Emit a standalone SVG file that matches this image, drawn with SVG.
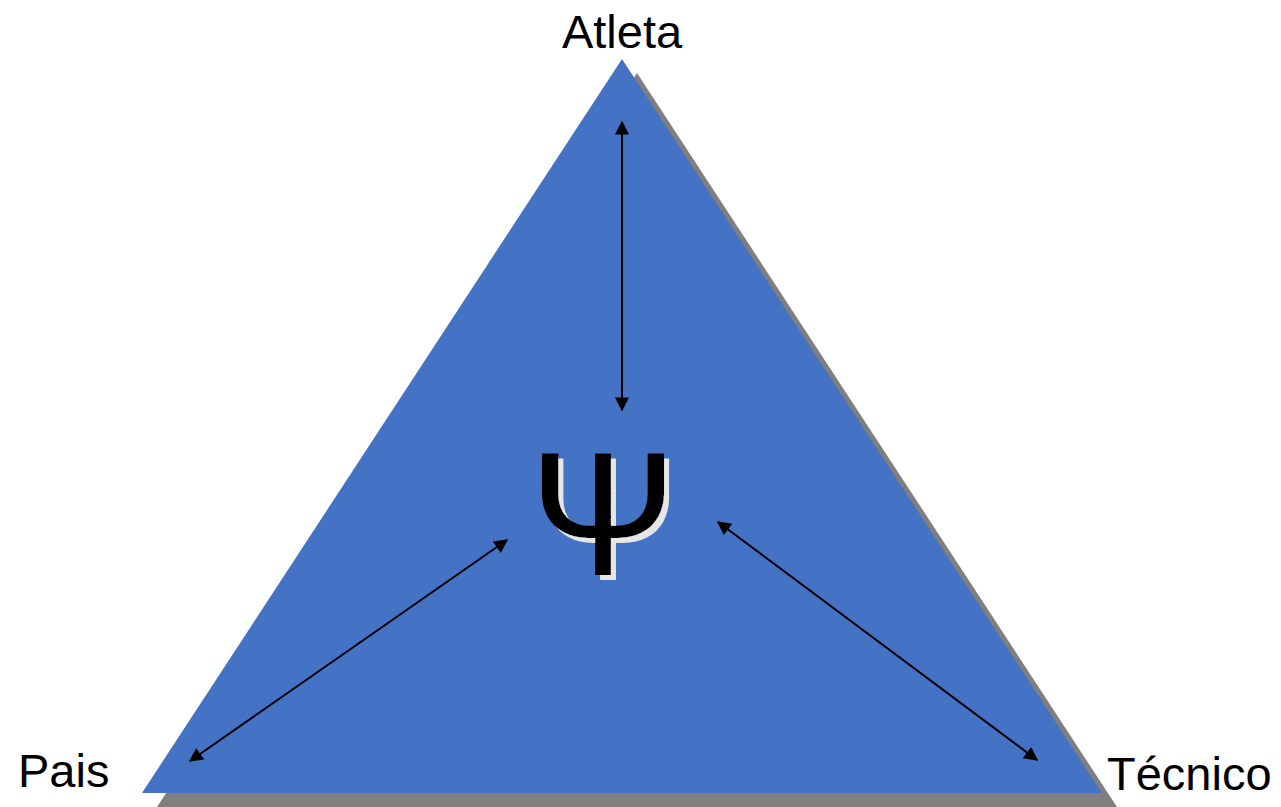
<svg xmlns="http://www.w3.org/2000/svg" width="1281" height="807" viewBox="0 0 1281 807">
<style>
.lbl{font-family:"Liberation Sans",Arial,sans-serif;font-size:47px;fill:#000}
.psi{font-family:"Liberation Sans",Arial,sans-serif;font-size:176px;fill:#000}
.con{stroke:#000;stroke-width:2;fill:none;marker-start:url(#ah);marker-end:url(#ah)}
</style>
<defs>
<marker id="ah" viewBox="0 0 10 10" refX="9" refY="5" markerWidth="7" markerHeight="7" orient="auto-start-reverse" markerUnits="strokeWidth">
<path d="M0,0 L10,5 L0,10 z" fill="#000"/>
</marker>
<filter id="sh" x="-20%" y="-20%" width="140%" height="140%">
<feOffset in="SourceAlpha" dx="5" dy="5" result="o"/>
<feFlood flood-color="#e6e6e6"/>
<feComposite in2="o" operator="in" result="s"/>
<feMerge><feMergeNode in="s"/><feMergeNode in="SourceGraphic"/></feMerge>
</filter>
</defs>
<rect width="1281" height="807" fill="#fff"/>
<g id="triangle">
<polygon points="637,73 1117,807 157,807" fill="#7f7f7f"/>
<polygon points="622,59 1102,793 142,793" fill="#4472C4"/>
</g>
<g id="psi">
<text class="psi" x="603" y="575" text-anchor="middle" filter="url(#sh)">Ψ</text>
</g>
<g id="connectors">
<line class="con" x1="622" y1="122" x2="622" y2="410"/>
<line class="con" x1="507" y1="540" x2="190" y2="761"/>
<line class="con" x1="718" y1="522" x2="1037" y2="760"/>
</g>
<g id="atleta"><text class="lbl" x="622" y="48" text-anchor="middle">Atleta</text></g>
<g id="pais"><text class="lbl" x="18" y="787">Pais</text></g>
<g id="tecnico"><text class="lbl" x="1107" y="790">Técnico</text></g>
</svg>
